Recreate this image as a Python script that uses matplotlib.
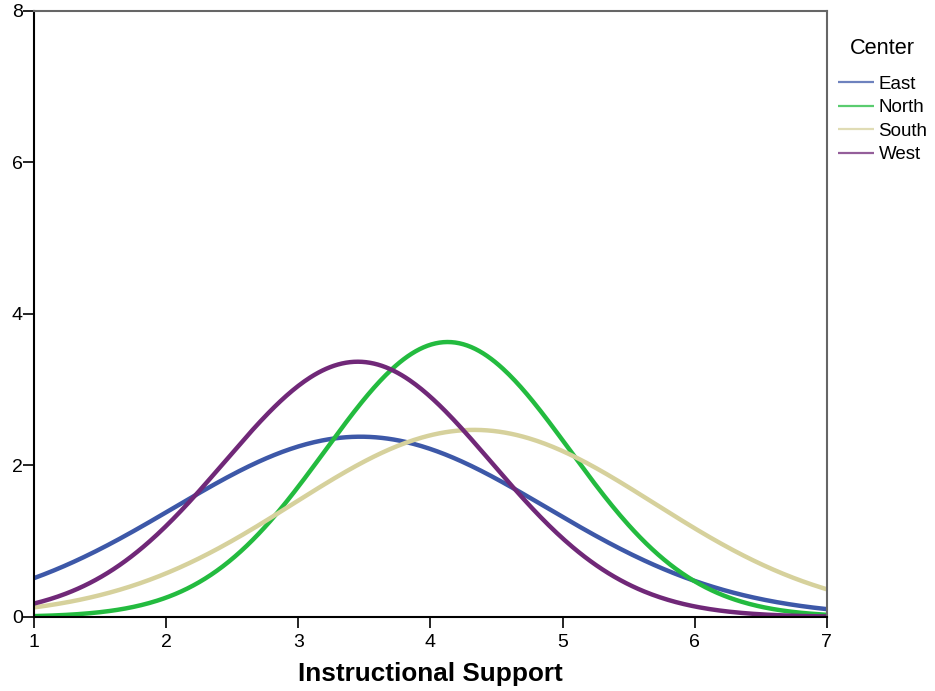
import numpy as np
import matplotlib
matplotlib.use("Agg")
import matplotlib.pyplot as plt

plt.rcParams['font.family'] = ['Liberation Sans', 'DejaVu Sans']

# normal curve parameters per center
centers = ['East', 'North', 'South', 'West']
means = [3.47, 4.13, 4.33, 3.45]
sds = [1.41, 0.925, 1.366, 1.01]
peaks = [2.38, 3.63, 2.47, 3.37]
colors = ['#3d58a8', '#23bb3f', '#d6d19c', '#702878']

x_ticks = [1, 2, 3, 4, 5, 6, 7]
y_ticks = [0, 2, 4, 6, 8]

fig = plt.figure(figsize=(9.35, 6.91), dpi=100)
ax = fig.add_axes([0.0364, 0.1071, 0.848, 0.877])

xs = np.linspace(1, 7, 400)
for name, m, s, p, c in zip(centers, means, sds, peaks, colors):
    ys = p * np.exp(-(xs - m) ** 2 / (2 * s ** 2))
    ax.plot(xs, ys, color=c, lw=3.2, label=name, solid_capstyle='butt')

ax.set_xlim(1, 7)
ax.set_ylim(0, 8)
ax.set_xticks(x_ticks)
ax.set_yticks(y_ticks)
ax.tick_params(direction='out', length=8, width=1.2, labelsize=14, colors='black')
ax.tick_params(axis='x', pad=4)
ax.tick_params(axis='y', pad=0)

for side in ['left', 'bottom']:
    ax.spines[side].set_color('black')
    ax.spines[side].set_linewidth(1.5)
for side in ['top', 'right']:
    ax.spines[side].set_color('#666666')
    ax.spines[side].set_linewidth(1.5)

ax.set_xlabel('Instructional Support', fontsize=18.8, fontweight='bold', labelpad=8)

leg = ax.legend(title='Center', loc='upper left', bbox_to_anchor=(1.0, 0.974),
                frameon=False, fontsize=13.5, title_fontsize=15.7,
                handlelength=1.9, handletextpad=0.25, labelspacing=0.34,
                borderaxespad=0.2)
leg._legend_box.sep = 12
for line in leg.get_lines():
    line.set_linewidth(1.6)
    line.set_alpha(0.75)

fig.savefig('out.png', dpi=100)
